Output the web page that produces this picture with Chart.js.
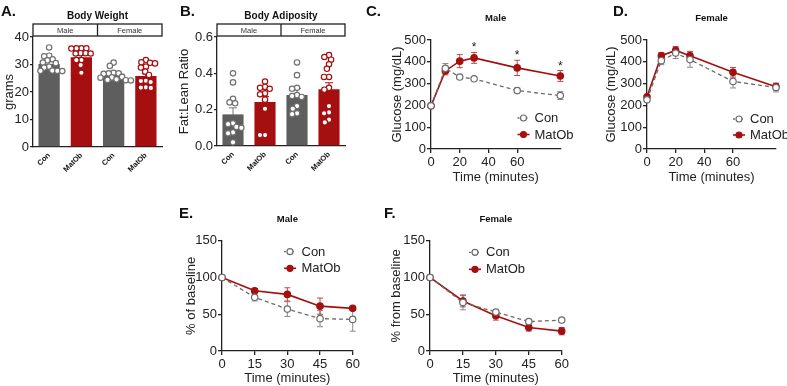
<!DOCTYPE html>
<html>
<head>
<meta charset="utf-8">
<title>Body weight, adiposity, GTT and ITT</title>
<script src="https://cdn.jsdelivr.net/npm/chart.js@4.4.0/dist/chart.umd.min.js"></script>
<style>
  body { margin: 0; background: #fff; }
  #fig { position: relative; width: 787px; height: 386px; overflow: hidden; font-family: "Liberation Sans", Arial, sans-serif; }
  #fig canvas { position: absolute; }
  .tag { position: absolute; font-weight: bold; font-size: 15px; line-height: 15px; color: #111; }
</style>
</head>
<body>
<div id="fig">
  <canvas id="chartA" width="175" height="185" style="left:0;top:0"></canvas>
  <canvas id="chartB" width="180" height="185" style="left:173px;top:0"></canvas>
  <canvas id="chartC" width="190" height="189" style="left:386px;top:0"></canvas>
  <canvas id="chartD" width="187" height="189" style="left:600px;top:0"></canvas>
  <canvas id="chartE" width="190" height="191" style="left:180px;top:195px"></canvas>
  <canvas id="chartF" width="195" height="191" style="left:385px;top:195px"></canvas>
  <div class="tag" style="left:1px;top:3px">A.</div>
  <div class="tag" style="left:180px;top:3px">B.</div>
  <div class="tag" style="left:366px;top:3px">C.</div>
  <div class="tag" style="left:613px;top:3px">D.</div>
  <div class="tag" style="left:179px;top:205px">E.</div>
  <div class="tag" style="left:384px;top:205px">F.</div>
</div>
<script>
"use strict";

// Bar panels (A and B)
const barLabels = ["Con", "MatOb", "Con", "MatOb"];
const sexLabels = ["Male", "Female"];

const weightMeans = [30.2, 32.6, 26.6, 25.8];
const weightSem = [0.8, 0.9, 0.6, 0.8];
const weightMaleCon = [36.2, 33.2, 33.0, 31.9, 31.5, 30.7, 30.5, 29.2, 28.9, 27.8, 27.7, 27.7, 27.6];
const weightMaleMatOb = [35.9, 35.9, 35.9, 35.8, 34.1, 34.1, 34.0, 34.0, 31.6, 31.6, 29.8, 27.0];
const weightFemaleCon = [30.7, 29.5, 27.0, 26.8, 26.8, 26.6, 25.5, 25.3, 25.2, 24.6, 24.4, 24.3, 24.2];
const weightFemaleMatOb = [31.6, 30.8, 30.6, 30.4, 29.2, 28.9, 27.4, 26.2, 24.1, 24.0, 23.6, 21.7, 21.6, 21.5];

const ratioMeans = [0.174, 0.242, 0.281, 0.313];
const ratioSem = [0.036, 0.03, 0.035, 0.035];
const ratioMaleCon = [0.40, 0.35, 0.26, 0.24, 0.235, 0.125, 0.12, 0.105, 0.10, 0.075, 0.07, 0.02];
const ratioMaleMatOb = [0.355, 0.325, 0.32, 0.315, 0.29, 0.285, 0.255, 0.205, 0.06, 0.06];
const ratioFemaleCon = [0.46, 0.39, 0.32, 0.315, 0.28, 0.275, 0.27, 0.22, 0.205, 0.18, 0.175];
const ratioFemaleMatOb = [0.50, 0.49, 0.475, 0.45, 0.425, 0.38, 0.38, 0.32, 0.31, 0.22, 0.185, 0.18, 0.145, 0.13];

// Glucose tolerance (C and D)
const gttTimes = [0, 10, 20, 30, 60, 90];
const gttMaleCon = [198, 370, 330, 322, 268, 245];
const gttMaleConSem = [8, 22, 8, 6, 12, 18];
const gttMaleMatOb = [198, 358, 403, 418, 372, 335];
const gttMaleMatObSem = [8, 18, 30, 25, 35, 25];
const gttMaleStars = [false, false, false, true, true, true];
const gttFemaleCon = [226, 405, 440, 410, 310, 282];
const gttFemaleConSem = [10, 18, 25, 35, 30, 20];
const gttFemaleMatOb = [240, 428, 452, 428, 352, 286];
const gttFemaleMatObSem = [10, 15, 18, 20, 22, 15];

// Insulin tolerance (E and F)
const ittTimes = [0, 15, 30, 45, 60];
const ittMaleCon = [100, 73, 57, 44, 43];
const ittMaleConSem = [0, 5, 10, 11, 16];
const ittMaleMatOb = [100, 82, 77, 61, 58];
const ittMaleMatObSem = [0, 3, 9, 11, 3];
const ittFemaleCon = [100, 66, 53, 40, 42];
const ittFemaleConSem = [0, 10, 3, 3, 3];
const ittFemaleMatOb = [100, 68, 48, 32, 27];
const ittFemaleMatObSem = [0, 8, 6, 5, 5];

const GREY = "#5e5e5e";
const GREY_LINE = "#6c6c6c";
const RED = "#a50f0f";
const FONT = "'Liberation Sans', Arial, sans-serif";

Chart.defaults.font.family = FONT;
Chart.defaults.color = "#222";

// error bars are drawn under the marks
const errorBarPlugin = {
	id: "errorBars",
	beforeDatasetsDraw(chart) {
		const ctx = chart.ctx;
		const yScale = chart.scales.y;
		chart.data.datasets.forEach(function (ds, di) {
			if (!ds.errors) return;
			const meta = chart.getDatasetMeta(di);
			meta.data.forEach(function (el, i) {
				const err = ds.errors[i];
				if (!err) return;
				const raw = ds.data[i];
				const v = typeof raw === "object" ? raw.y : raw;
				const top = yScale.getPixelForValue(v + err);
				const bottom = yScale.getPixelForValue(v - err);
				const cap = ds.capWidth || 3;
				ctx.save();
				ctx.strokeStyle = Array.isArray(ds.errorColor) ? ds.errorColor[i] : ds.errorColor;
				ctx.lineWidth = 1;
				ctx.beginPath();
				ctx.moveTo(el.x, top);
				ctx.lineTo(el.x, bottom);
				ctx.moveTo(el.x - cap, top);
				ctx.lineTo(el.x + cap, top);
				ctx.moveTo(el.x - cap, bottom);
				ctx.lineTo(el.x + cap, bottom);
				ctx.stroke();
				ctx.restore();
			});
		});
	},
	afterDatasetsDraw(chart) {
		// significance stars
		const ctx = chart.ctx;
		const yScale = chart.scales.y;
		chart.data.datasets.forEach(function (ds, di) {
			if (!ds.stars) return;
			const meta = chart.getDatasetMeta(di);
			meta.data.forEach(function (el, i) {
				if (!ds.stars[i]) return;
				const v = ds.data[i].y + (ds.errors ? ds.errors[i] : 0);
				ctx.save();
				ctx.fillStyle = "#222";
				ctx.font = "12px " + FONT;
				ctx.textAlign = "center";
				ctx.textBaseline = "alphabetic";
				ctx.fillText("*", el.x, yScale.getPixelForValue(v) - 1);
				ctx.restore();
			});
		});
	},
};

// Male / Female box above the bar panels
const groupHeaderPlugin = {
	id: "groupHeader",
	afterDraw(chart, args, opts) {
		if (!opts.labels) return;
		const ctx = chart.ctx;
		const area = chart.chartArea;
		const mid = (area.left + area.right) / 2;
		const y0 = area.top - 13;
		const h = 12;
		ctx.save();
		ctx.strokeStyle = "#222";
		ctx.lineWidth = 1.3;
		ctx.strokeRect(area.left, y0, area.right - area.left, h);
		ctx.beginPath();
		ctx.moveTo(mid, y0);
		ctx.lineTo(mid, y0 + h);
		ctx.stroke();
		ctx.fillStyle = "#333";
		ctx.font = "7.5px " + FONT;
		ctx.textAlign = "center";
		ctx.textBaseline = "middle";
		ctx.fillText(opts.labels[0], (area.left + mid) / 2, y0 + h / 2 + 0.5);
		ctx.fillText(opts.labels[1], (mid + area.right) / 2, y0 + h / 2 + 0.5);
		ctx.restore();
	},
};

// small legend with line + marker like the original
const miniLegendPlugin = {
	id: "miniLegend",
	afterDraw(chart, args, opts) {
		if (opts.x === undefined) return;
		const ctx = chart.ctx;
		const area = chart.chartArea;
		chart.data.datasets.forEach(function (ds, i) {
			const cx = area.left + opts.x;
			const cy = area.top + opts.y + i * opts.step;
			ctx.save();
			ctx.strokeStyle = ds.borderColor;
			ctx.lineWidth = ds.borderWidth;
			ctx.setLineDash(ds.borderDash ? [2, 2] : []);
			ctx.beginPath();
			ctx.moveTo(cx - 6, cy);
			ctx.lineTo(cx + 6, cy);
			ctx.stroke();
			ctx.setLineDash([]);
			ctx.beginPath();
			ctx.arc(cx, cy, 3, 0, Math.PI * 2);
			ctx.fillStyle = ds.pointBackgroundColor;
			ctx.fill();
			ctx.lineWidth = ds.pointBorderWidth;
			ctx.strokeStyle = ds.pointBorderColor;
			ctx.stroke();
			ctx.fillStyle = "#222";
			ctx.font = "13px " + FONT;
			ctx.textAlign = "left";
			ctx.textBaseline = "middle";
			ctx.fillText(ds.label, cx + opts.gap, cy + 0.5);
			ctx.restore();
		});
	},
};

// beeswarm offsets (pixels) so circles do not overlap too much
function swarmOffsets(pixY, diam) {
	const order = pixY.map(function (y, i) { return i; }).sort(function (a, b) { return pixY[a] - pixY[b]; });
	const placed = [];
	const out = new Array(pixY.length).fill(0);
	order.forEach(function (i) {
		const y = pixY[i];
		const blocks = [];
		placed.forEach(function (p) {
			const dy = Math.abs(p.y - y);
			if (dy < diam) {
				const w = Math.sqrt(diam * diam - dy * dy);
				blocks.push([p.x - w, p.x + w]);
			}
		});
		const cands = [0];
		blocks.forEach(function (b) { cands.push(b[0], b[1]); });
		cands.sort(function (a, b) { return Math.abs(a) - Math.abs(b); });
		const x = cands.find(function (c) {
			return blocks.every(function (b) { return c <= b[0] + 1e-6 || c >= b[1] - 1e-6; });
		});
		out[i] = x;
		placed.push({ x: x, y: y });
	});
	return out;
}

function makeBarChart(id, title, means, sem, groups, yCfg, dims) {
	const points = [];
	const borders = [];
	groups.forEach(function (vals, gi) {
		vals.forEach(function (v) {
			points.push({ x: gi, y: v, g: gi });
			borders.push(gi % 2 === 0 ? "#707070" : RED);
		});
	});

	const chart = new Chart(document.getElementById(id), {
		type: "bar",
		data: {
			labels: barLabels,
			datasets: [
				{
					data: means,
					backgroundColor: [GREY, RED, GREY, RED],
					barPercentage: 0.66,
					categoryPercentage: 1.0,
					grouped: false,
					errors: sem,
					errorColor: ["#777777", RED, "#777777", RED],
					capWidth: 4,
					order: 1,
				},
				{
					type: "scatter",
					data: points,
					xAxisID: "xs",
					pointRadius: 2.7,
					pointBorderWidth: 1.2,
					pointBackgroundColor: "#ffffff",
					pointBorderColor: borders,
					clip: false,
					order: 0,
				},
			],
		},
		options: {
			responsive: false,
			animation: false,
			devicePixelRatio: 1,
			layout: { padding: { left: 0, right: dims.padRight, top: 0, bottom: 0 } },
			plugins: {
				legend: { display: false },
				tooltip: { enabled: false },
				title: {
					display: true,
					text: title,
					fullSize: false,
					color: "#111",
					font: { size: 10, weight: "bold" },
					padding: { top: 10, bottom: 15 },
				},
				groupHeader: { labels: sexLabels },
			},
			scales: {
				x: {
					type: "category",
					offset: true,
					border: { color: "#222", width: 1.3 },
					grid: { display: false, drawTicks: false, offset: true },
					ticks: { minRotation: 45, maxRotation: 45, padding: 4, color: "#111", font: { size: 7.5, weight: "bold" } },
					afterFit: function (s) { s.height = dims.xHeight; },
				},
				// hidden axis lining up with the category slots, for the individual points
				xs: { type: "linear", display: false, offset: false, bounds: "data", grace: 0, min: -0.5, max: 3.5 },
				y: {
					min: yCfg.min,
					max: yCfg.max,
					border: { color: "#222", width: 1.3 },
					grid: { drawOnChartArea: false, tickLength: 3, color: "#222", lineWidth: 1.3 },
					ticks: { stepSize: yCfg.step, padding: 1, font: { size: 13 }, callback: yCfg.format },
					title: { display: true, text: yCfg.title, font: { size: 13 }, padding: { top: dims.titlePad, bottom: 0 } },
					afterFit: function (s) { s.width = dims.yWidth; },
				},
			},
		},
		plugins: [errorBarPlugin, groupHeaderPlugin],
	});

	// spread the individual animals around each bar centre
	const xScale = chart.scales.x;
	const xs = chart.scales.xs;
	const ys = chart.scales.y;
	const pxPerUnit = xs.getPixelForValue(1) - xs.getPixelForValue(0);
	groups.forEach(function (vals, gi) {
		const idx = [];
		points.forEach(function (p, i) { if (p.g === gi) idx.push(i); });
		const offs = swarmOffsets(idx.map(function (i) { return ys.getPixelForValue(points[i].y); }), 5.0);
		// centre of the bar slot, read back from the category axis
		const centre = xs.getValueForPixel(xScale.getPixelForValue(gi));
		idx.forEach(function (i, k) { points[i].x = centre + offs[k] / pxPerUnit; });
	});
	chart.update("none");
	return chart;
}

function toPoints(times, values) {
	return times.map(function (t, i) { return { x: t, y: values[i] }; });
}

function makeLineChart(id, title, times, con, conSem, ob, obSem, cfg) {
	return new Chart(document.getElementById(id), {
		type: "line",
		data: {
			datasets: [
				{
					label: "Con",
					data: toPoints(times, con),
					borderColor: GREY_LINE,
					borderWidth: 1.3,
					borderDash: [4, 3],
					pointRadius: 3.2,
					pointBorderWidth: 1.2,
					pointBackgroundColor: "#ffffff",
					pointBorderColor: GREY_LINE,
					errors: conSem,
					errorColor: "#8a8a8a",
					tension: 0,
					clip: false,
				},
				{
					label: "MatOb",
					data: toPoints(times, ob),
					borderColor: RED,
					borderWidth: 1.6,
					pointRadius: 3.2,
					pointBorderWidth: 1.2,
					pointBackgroundColor: RED,
					pointBorderColor: RED,
					errors: obSem,
					errorColor: "#b84a4a",
					stars: cfg.stars,
					tension: 0,
					clip: false,
				},
			],
		},
		options: {
			responsive: false,
			animation: false,
			devicePixelRatio: 1,
			layout: { padding: { left: 0, right: cfg.padRight, top: 0, bottom: 0 } },
			plugins: {
				legend: { display: false },
				tooltip: { enabled: false },
				title: {
					display: true,
					text: title,
					fullSize: false,
					color: "#111",
					font: { size: 9.5, weight: "bold" },
					padding: { top: cfg.titleTop, bottom: cfg.titleBottom },
				},
				miniLegend: cfg.legend,
			},
			scales: {
				x: {
					type: "linear",
					min: 0,
					max: cfg.xMax,
					border: { color: "#222", width: 1.3 },
					grid: { drawOnChartArea: false, tickLength: 4, color: "#222", lineWidth: 1.3 },
					ticks: { stepSize: cfg.xStep, padding: 2, font: { size: 13 } },
					afterBuildTicks: function (s) {
						s.ticks = s.ticks.filter(function (t) { return t.value % cfg.xStep === 0; });
					},
					title: { display: true, text: "Time (minutes)", font: { size: 13 }, padding: { top: 0, bottom: cfg.xTitlePad } },
					afterFit: function (s) { s.height = cfg.xHeight; },
				},
				y: {
					min: 0,
					max: cfg.yMax,
					border: { color: "#222", width: 1.3 },
					grid: { drawOnChartArea: false, tickLength: 4, color: "#222", lineWidth: 1.3 },
					ticks: { stepSize: cfg.yStep, padding: 1, font: { size: 13 } },
					title: { display: true, text: cfg.yTitle, font: { size: 13 }, padding: { top: 4, bottom: 0 } },
					afterFit: function (s) { s.width = cfg.yWidth; },
				},
			},
		},
		plugins: [errorBarPlugin, miniLegendPlugin],
	});
}

makeBarChart("chartA", "Body Weight", weightMeans, weightSem,
	[weightMaleCon, weightMaleMatOb, weightFemaleCon, weightFemaleMatOb],
	{ min: 0, max: 40, step: 10, title: "grams" },
	{ yWidth: 33, xHeight: 38, padRight: 13, titlePad: 2 });

makeBarChart("chartB", "Body Adiposity", ratioMeans, ratioSem,
	[ratioMaleCon, ratioMaleMatOb, ratioFemaleCon, ratioFemaleMatOb],
	{ min: 0, max: 0.6, step: 0.2, title: "Fat:Lean Ratio", format: function (v) { return v.toFixed(1); } },
	{ yWidth: 44, xHeight: 39, padRight: 8, titlePad: 4 });

makeLineChart("chartC", "Male", gttTimes, gttMaleCon, gttMaleConSem, gttMaleMatOb, gttMaleMatObSem, {
	xMax: 90, xStep: 20, yMax: 500, yStep: 100, yTitle: "Glucose (mg/dL)",
	yWidth: 45, padRight: 15.7, titleTop: 12.3, titleBottom: 16.3, xHeight: 40, xTitlePad: 4,
	legend: { x: 92.5, y: 78, step: 16.5, gap: 11 }, stars: gttMaleStars,
});

makeLineChart("chartD", "Female", gttTimes, gttFemaleCon, gttFemaleConSem, gttFemaleMatOb, gttFemaleMatObSem, {
	xMax: 90, xStep: 20, yMax: 500, yStep: 100, yTitle: "Glucose (mg/dL)",
	yWidth: 47, padRight: 11, titleTop: 12.3, titleBottom: 16.3, xHeight: 40, xTitlePad: 4,
	legend: { x: 92, y: 79, step: 16, gap: 11 },
});

makeLineChart("chartE", "Male", ittTimes, ittMaleCon, ittMaleConSem, ittMaleMatOb, ittMaleMatObSem, {
	xMax: 60, xStep: 15, yMax: 150, yStep: 50, yTitle: "% of baseline",
	yWidth: 42, padRight: 17.3, titleTop: 18.6, titleBottom: 15.7, xHeight: 35, xTitlePad: 0,
	legend: { x: 68, y: 11, step: 16.6, gap: 11.5 },
});

makeLineChart("chartF", "Female", ittTimes, ittFemaleCon, ittFemaleConSem, ittFemaleMatOb, ittFemaleMatObSem, {
	xMax: 60, xStep: 15, yMax: 150, yStep: 50, yTitle: "% from baseline",
	yWidth: 45, padRight: 18.3, titleTop: 18.6, titleBottom: 15.7, xHeight: 35, xTitlePad: 0,
	legend: { x: 45, y: 11.6, step: 17, gap: 11 },
});
</script>
</body>
</html>
